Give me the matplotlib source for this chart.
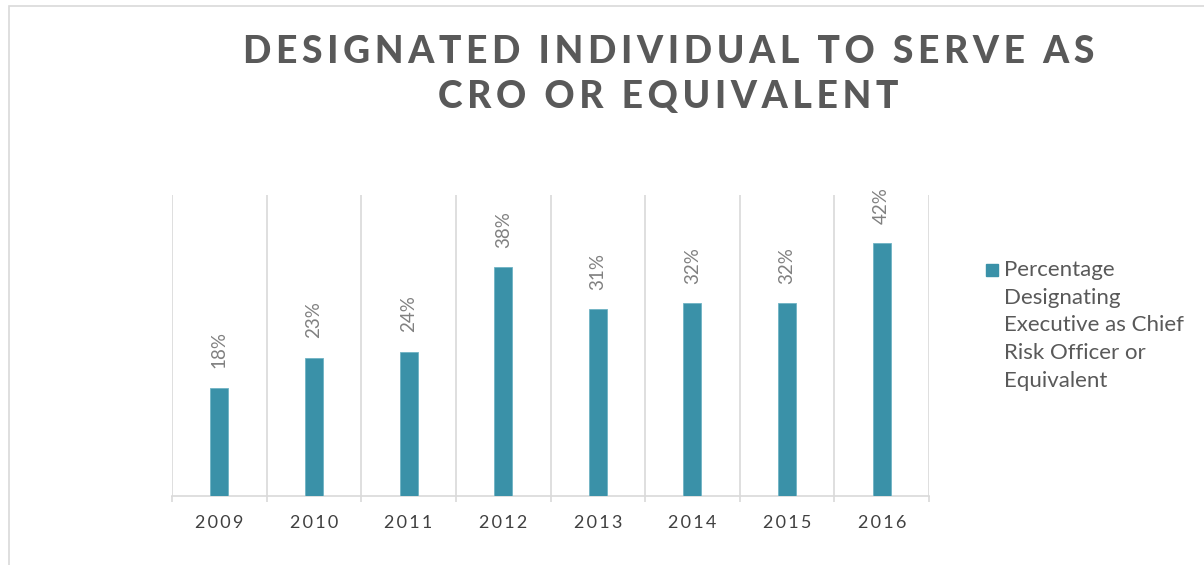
import matplotlib
matplotlib.use("Agg")
import matplotlib.pyplot as plt
from matplotlib.patches import Rectangle

plt.rcParams['font.family'] = ['Lato', 'DejaVu Sans']

# data
years = ['2009', '2010', '2011', '2012', '2013', '2014', '2015', '2016']
pct = [0.18, 0.23, 0.24, 0.38, 0.31, 0.32, 0.32, 0.42]
labels = ['18%', '23%', '24%', '38%', '31%', '32%', '32%', '42%']
series_name = 'Percentage\nDesignating\nExecutive as Chief\nRisk Officer or\nEquivalent'
title_lines = ['DESIGNATED INDIVIDUAL TO SERVE AS', 'CRO OR EQUIVALENT']

bar_col = '#3A91A8'
grid_col = '#D9D9D9'
W, H = 1204, 565


def spaced(s, sp='\u2009'):
    return sp.join(s)


fig = plt.figure(figsize=(W / 100, H / 100), dpi=100)
# outer frame (left and top edges only visible)
fig.patches.append(Rectangle((9 / W, -0.1), 1.2, 1 - 6 / H + 0.1,
                             transform=fig.transFigure, fill=False,
                             edgecolor=grid_col, lw=1.2))

ax = fig.add_axes([0.1429, 0.1221, 0.6287, 0.5327])
x = list(range(len(years)))
ax.bar(x, pct, width=0.19, color=bar_col, edgecolor='#6FB3C4', lw=0.6, zorder=3)

for xi, v, t in zip(x, pct, labels):
    ax.annotate(t, (xi, v), xytext=(0, 14), textcoords='offset points',
                rotation=90, ha='center', va='bottom', fontsize=13.5,
                color='#808080')

ax.set_xlim(-0.5, len(years) - 0.5)
ax.set_ylim(0, 0.5)
ax.set_yticks([])
ax.set_xticks(x)
ax.set_xticklabels([spaced(y) for y in years], fontsize=13, color='#404040')
ax.tick_params(axis='x', length=0, pad=14)
ax.set_xticks([i - 0.5 for i in range(len(years) + 1)], minor=True)
ax.tick_params(axis='x', which='minor', length=4, color=grid_col, width=1.2)
ax.grid(axis='x', which='minor', color=grid_col, lw=1.2, zorder=0)
for s in ['top', 'right', 'left']:
    ax.spines[s].set_visible(False)
ax.spines['bottom'].set_color(grid_col)
ax.spines['bottom'].set_linewidth(1.2)

# legend: square key beside the first line of the label
fig.patches.append(Rectangle((986 / W, 1 - 276 / H), 12 / W, 12 / H,
                             transform=fig.transFigure, color=bar_col))
fig.text(1004 / W, 1 - 260 / H, series_name, ha='left', va='top',
         fontsize=16, color='#595959', linespacing=1.48)

fig.text(669 / W, 1 - 63 / H, spaced(title_lines[0]), ha='center',
         va='baseline', fontsize=26.8, fontweight='black', color='#595959')
fig.text(668 / W, 1 - 108 / H, spaced(title_lines[1]), ha='center',
         va='baseline', fontsize=26.8, fontweight='black', color='#595959')

fig.savefig('out.png', dpi=100)
